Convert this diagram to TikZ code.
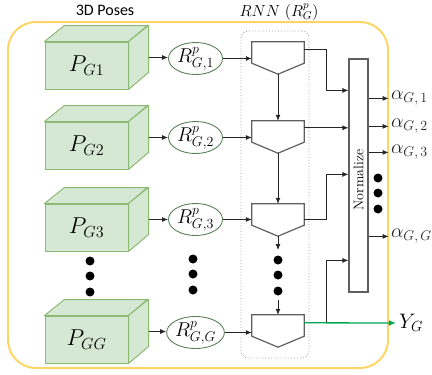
\RequirePackage{fix-cm}
\documentclass[tikz,border=0pt]{standalone}
\usepackage{fontspec}
\newfontfamily\carl{Carlito}
\usetikzlibrary{arrows.meta,calc,shapes.geometric}
\definecolor{boxfill}{RGB}{213,232,212}
\definecolor{boxline}{RGB}{140,185,115}
\definecolor{framecol}{RGB}{255,214,102}
\definecolor{cellline}{RGB}{95,95,95}
\definecolor{outgreen}{RGB}{0,166,81}
\definecolor{ellline}{RGB}{90,130,90}
\definecolor{dotgray}{RGB}{160,160,160}
\begin{document}
\begin{tikzpicture}[x=1pt,y=-1pt,
  cube/.style={draw=boxline, fill=boxfill, line width=1pt, minimum width=83pt, minimum height=47pt, inner sep=0pt},
  cubeface/.style={draw=boxline, fill=boxfill, line width=1pt, line join=round},
  rnode/.style={ellipse, draw=ellline, fill=white, line width=0.9pt, minimum width=54pt, minimum height=32pt, inner sep=0pt, font=\fontsize{20}{22}\selectfont},
  conn/.style={-{Latex[length=6pt,width=5pt]}, line width=0.8pt, black!85},
  bigdot/.style={circle, fill=black, minimum size=9pt, inner sep=0pt},
  cellbox/.style={minimum width=52pt, minimum height=21pt, inner sep=0pt},
  cellpath/.style={draw=cellline, line width=1.2pt, line join=miter},
  alab/.style={right, inner sep=2pt, font=\fontsize{20}{22}\selectfont}
]
\useasboundingbox (0,0) rectangle (432,375);

% outer frame
\draw[framecol, line width=2pt, rounded corners=28pt] (8,22) rectangle (388,368);

% titles
\node (t1) at (105,10) {\carl\fontsize{16}{18}\selectfont 3D Poses};
\node (t2) at (279,12) {\fontsize{16}{18}\selectfont $RNN\ (R_G^p)$};

% RNN dotted box
\node (rnnbox) [draw=dotgray, dotted, line width=0.9pt, rounded corners=7pt, minimum width=68pt, minimum height=327pt, inner sep=0pt] at (275,194.5) {};

% cubes
\foreach \n/\t/\lab in {1/42/{P_{G1}}, 2/122/{P_{G2}}, 3/204/{P_{G3}}, G/316/{P_{GG}}}{
  \node (P\n) [cube] at (86.5,\t+23.5) {};
  \draw[cubeface] (P\n.north west) -- ++(20,-16) -- ++(83,0) -- (P\n.north east) -- cycle;
  \draw[cubeface] (P\n.north east) -- ++(20,-16) -- ++(0,47) -- (P\n.south east) -- cycle;
  \node at (P\n) [font=\fontsize{23}{24}\selectfont] {$\lab$};
}

% R ellipses
\node (R1) [rnode] at (195.5,58.5) {$R^p_{G,1}$};
\node (R2) [rnode] at (195.5,137.5) {$R^p_{G,2}$};
\node (R3) [rnode] at (195.5,219.5) {$R^p_{G,3}$};
\node (RG) [rnode] at (195.5,332.5) {$R^p_{G,G}$};

% cube -> ellipse arrows
\foreach \n in {1,2,3,G}{
  \coordinate (s\n) at ($(P\n.east)+(20,-8)$);
  \draw[conn] (s\n) -- (s\n -| R\n.west);
}

% cells
\foreach \n/\t in {1/42,2/121,3/204,G/315}{
  \node (c\n) [cellbox] at (278,\t+10.5) {};
  \coordinate (c\n tip) at ($(c\n.south)+(0,11)$);
  \draw[cellpath] (c\n.north west) -- (c\n.north east) -- (c\n.south east) -- (c\n tip) -- (c\n.south west) -- cycle;
}

% ellipse -> cell arrows
\foreach \n in {1,2,3,G}{
  \draw[conn] (R\n.east) -- (R\n.east -| c\n.west);
}

% vertical chain
\draw[conn] (c1tip) -- (c2.north);
\draw[conn] (c2tip) -- (c3.north);
\coordinate (vd1) at (278,250);
\coordinate (vd2) at (278,300);
\draw[conn] (c3tip) -- (vd1);
\draw[conn] (vd2) -- (cG.north);

% dots
\foreach \y in {261,276,292}{\node[bigdot] at (90,\y) {};}
\foreach \y in {259,274,290}{\node[bigdot] at (193,\y) {};}
\foreach \y in {260,275,291}{\node[bigdot] at (278,\y) {};}
\foreach \y in {178,193,209}{\node[bigdot] at (378,\y) {};}

% normalize
\node (norm) [draw=cellline, line width=1.2pt, fill=white, minimum width=19pt, minimum height=233pt, inner sep=0pt] at (358.5,175.5) {};
\node [rotate=90, font=\fontsize{14}{16}\selectfont] at (358.5,180) {Normalize};

% cell -> normalize
\draw[conn] ($(c1.north east)+(0,8)$) -- ++(22,0) |- ($(norm.north west)+(0,32)$);
\coordinate (o2) at ($(c2.north east)+(0,7)$);
\draw[conn] (o2) -- (o2 -| norm.west);
\draw[conn] ($(c3.north east)+(0,16)$) -- ++(22,0) |- ($(norm.north west)+(0,116)$);
\coordinate (oG) at ($(cG.north east)+(0,8)$);
\coordinate (YG) at (396,323);
\draw[conn] ($(oG)+(22,0)$) |- ($(norm.north west)+(0,202)$);
\draw[-{Latex[length=7pt,width=6pt]}, line width=1.3pt, outgreen] (oG) -- (YG);
\node (ylab) [right, inner sep=3pt, font=\fontsize{21}{22}\selectfont] at (YG) {$Y_G$};

% normalize -> alpha outputs
\draw[conn] ($(norm.north east)+(0,40)$) -- ++(20,0) node[alab] {$\alpha_{G,\,1}$};
\draw[conn] ($(norm.north east)+(0,68)$) -- ++(20,0) node[alab] {$\alpha_{G,\,2}$};
\draw[conn] ($(norm.north east)+(0,94)$) -- ++(20,0) node[alab] {$\alpha_{G,\,3}$};
\draw[conn] ($(norm.north east)+(0,178)$) -- ++(20,0) node[alab] {$\alpha_{G,\,G}$};
\end{tikzpicture}
\end{document}
